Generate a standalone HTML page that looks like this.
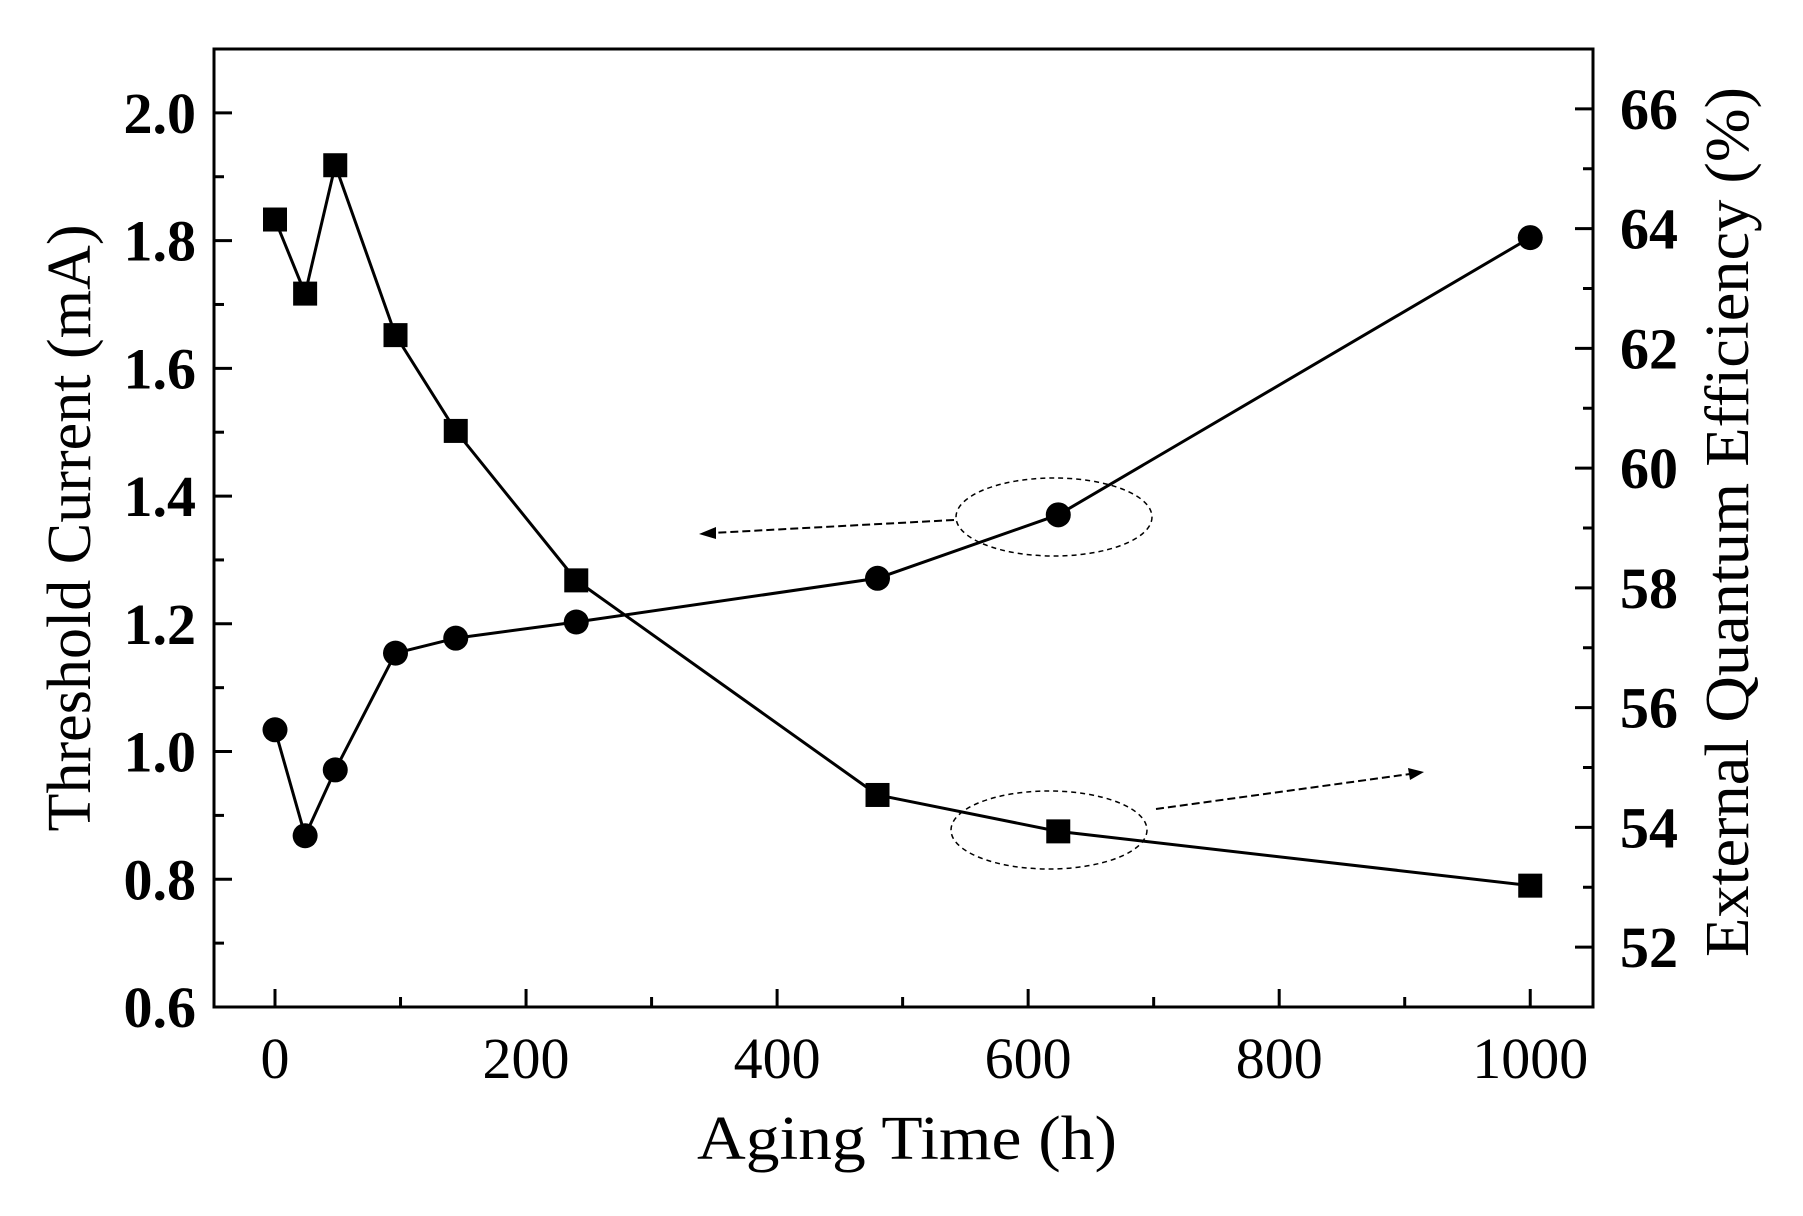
<!DOCTYPE html>
<html><head><meta charset="utf-8"><style>
html,body{margin:0;padding:0;background:#fff;}
svg text{font-family:"Liberation Serif",serif;fill:#000;}
</style></head><body>
<svg id="chart" width="1803" height="1211" viewBox="0 0 1803 1211" xmlns="http://www.w3.org/2000/svg">
<g id="axes"></g>
<g id="marks"></g>
<g id="annot"></g>
</svg>
<script>
const hours = [0, 24, 48, 96, 144, 240, 480, 624, 1000];
const thresholdCurrent = [1.833, 1.717, 1.918, 1.652, 1.502, 1.268, 0.932, 0.875, 0.79];
const eqe = [55.63, 53.86, 54.96, 56.91, 57.16, 57.43, 58.16, 59.22, 63.85];
const xTicks = [0, 200, 400, 600, 800, 1000];
const leftTicks = ["0.6", "0.8", "1.0", "1.2", "1.4", "1.6", "1.8", "2.0"];
const rightTicks = ["52", "54", "56", "58", "60", "62", "64", "66"];

const L = 214, R = 1593, T = 49, B = 1007;
const xMin = -48.6, xMax = 1050;
const yLMin = 0.6, yLMax = 2.1;
const yRMin = 51.0, yRMax = 67.0;
const NS = "http://www.w3.org/2000/svg";
function sx(v){return L + (v - xMin) / (xMax - xMin) * (R - L);}
function syL(v){return B - (v - yLMin) / (yLMax - yLMin) * (B - T);}
function syR(v){return B - (v - yRMin) / (yRMax - yRMin) * (B - T);}
function mk(tag, attrs, parent){const e=document.createElementNS(NS,tag);for(const k in attrs)e.setAttribute(k,attrs[k]);parent.appendChild(e);return e;}

const axes = document.getElementById('axes');
const marks = document.getElementById('marks');
const annot = document.getElementById('annot');

const frame = mk('rect',{x:L,y:T,width:R-L,height:B-T,fill:'none',stroke:'#000','stroke-width':3},axes);



for (let v = 0; v <= 1000; v += 100) {
  const major = v % 200 === 0;
  const t = mk('line',{x1:sx(v),x2:sx(v),y1:B,y2:B-(major?18:10),stroke:'#000','stroke-width':3},axes);
  
  
}
xTicks.forEach(v => {
  const t = mk('text',{x:sx(v),y:1078,'font-size':58,'text-anchor':'middle'},axes);
  t.textContent = v;
  
  
});
for (let i = 0; i <= 15; i++) {
  const v = 0.6 + i * 0.1;
  const major = i % 2 === 0;
  const t = mk('line',{x1:L,x2:L+(major?18:10),y1:syL(v),y2:syL(v),stroke:'#000','stroke-width':3},axes);
  
  
}
leftTicks.forEach(s => {
  const t = mk('text',{x:196,y:syL(parseFloat(s))+20,'font-size':58,'font-weight':'bold','text-anchor':'end'},axes);
  t.textContent = s;
  
  
});
for (let v = 52; v <= 67; v += 1) {
  const major = v % 2 === 0;
  const t = mk('line',{x1:R,x2:R-(major?18:10),y1:syR(v),y2:syR(v),stroke:'#000','stroke-width':3},axes);
  
  
}
rightTicks.forEach(s => {
  const t = mk('text',{x:1620,y:syR(parseFloat(s))+20,'font-size':58,'font-weight':'bold','text-anchor':'start'},axes);
  t.textContent = s;
  
  
});
let tt = mk('text',{x:907,y:1159,'font-size':62,'text-anchor':'middle',textLength:420,lengthAdjust:'spacingAndGlyphs'},axes);
tt.textContent = 'Aging Time (h)';


tt = mk('text',{x:0,y:0,'font-size':62,'text-anchor':'middle',textLength:607,lengthAdjust:'spacingAndGlyphs',transform:'translate(90,528) rotate(-90)'},axes);
tt.textContent = 'Threshold Current (mA)';


tt = mk('text',{x:0,y:0,'font-size':62,'text-anchor':'middle',textLength:870,lengthAdjust:'spacingAndGlyphs',transform:'translate(1748,522) rotate(-90)'},axes);
tt.textContent = 'External Quantum Efficiency (%)';



const p1 = mk('polyline',{points:hours.map((h,i)=>sx(h)+','+syL(thresholdCurrent[i])).join(' '),fill:'none',stroke:'#000','stroke-width':3},marks);


const p2 = mk('polyline',{points:hours.map((h,i)=>sx(h)+','+syR(eqe[i])).join(' '),fill:'none',stroke:'#000','stroke-width':3},marks);


hours.forEach((h,i) => {
  const s = mk('rect',{x:sx(h)-12,y:syL(thresholdCurrent[i])-12,width:24,height:24,fill:'#000'},marks);
  
  
  const c = mk('circle',{cx:sx(h),cy:syR(eqe[i]),r:12.5,fill:'#000'},marks);
  
  
});

let e = mk('ellipse',{cx:1054,cy:517,rx:98,ry:39,fill:'none',stroke:'#000','stroke-width':1.5,'stroke-dasharray':'5,4'},annot);


e = mk('ellipse',{cx:1049,cy:830,rx:98,ry:39,fill:'none',stroke:'#000','stroke-width':1.5,'stroke-dasharray':'5,4'},annot);


let a = mk('line',{x1:954,y1:520,x2:712,y2:533,stroke:'#000','stroke-width':2,'stroke-dasharray':'8,4'},annot);


a = mk('polygon',{points:'699,534 716,527 716,539',fill:'#000'},annot);


a = mk('line',{x1:1156,y1:809,x2:1410,y2:774,stroke:'#000','stroke-width':2,'stroke-dasharray':'8,4'},annot);


a = mk('polygon',{points:'1424,772 1408,768 1410,780',fill:'#000'},annot);


</script>
</body></html>
